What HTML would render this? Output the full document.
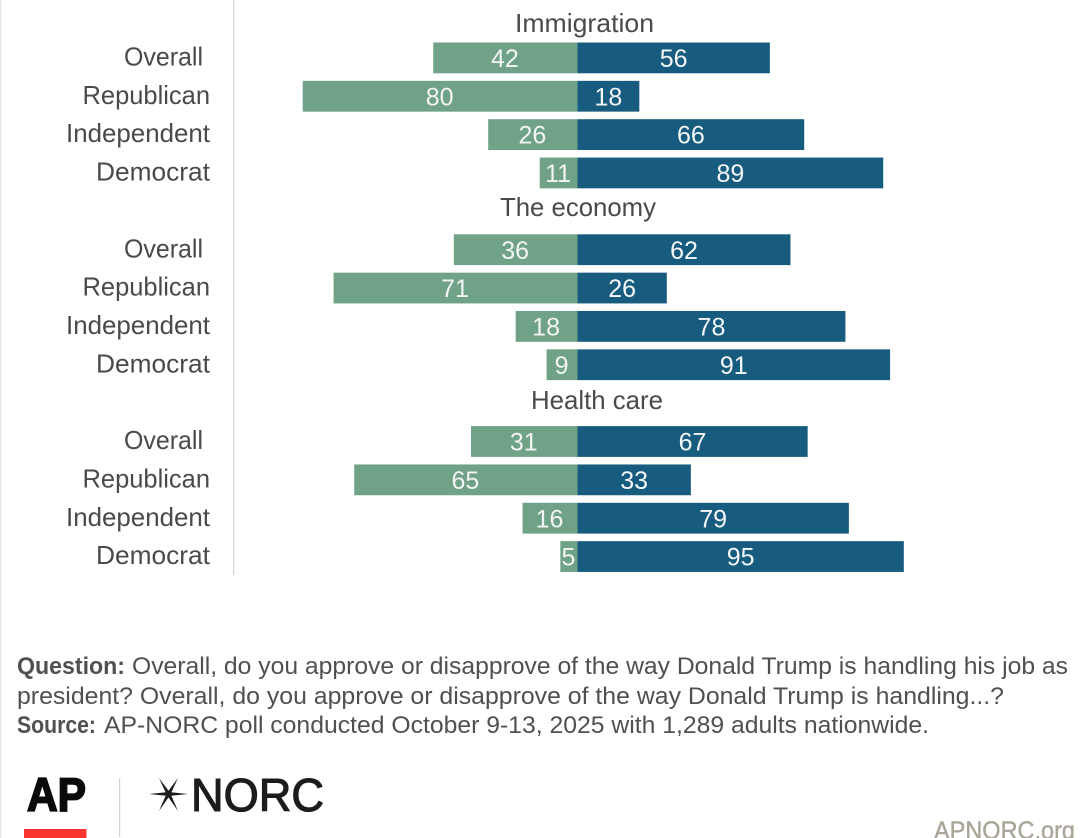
<!DOCTYPE html>
<html lang="en">
<head>
<meta charset="utf-8">
<title>AP-NORC poll: Trump approval by issue</title>
<style>
html,body{margin:0;padding:0;background:#fff;}
svg{display:block;font-family:"Liberation Sans",sans-serif;}
</style>
</head>
<body>
<svg id="chart" width="1091" height="838" viewBox="0 0 1091 838" xmlns="http://www.w3.org/2000/svg">
  <rect width="1091" height="838" fill="#ffffff"/>
  <rect x="0" y="0" width="1.5" height="838" fill="#e6e6e6"/>
  <rect x="233" y="0" width="1.3" height="575" fill="#d8d8d8"/>
  <g id="marks"></g>

  <g font-size="24" fill="#505050">
    <text x="17" y="674" font-weight="700" textLength="108" lengthAdjust="spacingAndGlyphs">Question:</text>
    <text x="132" y="674" textLength="936" lengthAdjust="spacingAndGlyphs">Overall, do you approve or disapprove of the way Donald Trump is handling his job as</text>
    <text x="17" y="704" textLength="987" lengthAdjust="spacingAndGlyphs">president? Overall, do you approve or disapprove of the way Donald Trump is handling...?</text>
    <text x="17" y="733" font-weight="700" textLength="79" lengthAdjust="spacingAndGlyphs">Source:</text>
    <text x="104" y="733" textLength="825" lengthAdjust="spacingAndGlyphs">AP-NORC poll conducted October 9-13, 2025 with 1,289 adults nationwide.</text>
  </g>

  <g>
    <text x="27" y="811" font-size="47" font-weight="700" fill="#0a0a0a" stroke="#0a0a0a" stroke-width="1.800" textLength="59" lengthAdjust="spacingAndGlyphs">AP</text>
    <rect x="24" y="829" width="62.500" height="9" fill="#fa3530"/>
  </g>
  <rect x="119" y="778" width="1.200" height="59" fill="#d5d3cc"/>
  <g>
    <g fill="#1c1c1c">
      <path d="M149 794L168.500 792L188 794L168.500 796Z"/>
      <path d="M159 778L170.200 793L178 811L166.800 795Z"/>
      <path d="M178 778L170.200 795L159 811L166.800 793Z"/>
    </g>
    <text x="191" y="811" font-size="46" fill="#1c1c1c" stroke="#1c1c1c" stroke-width="1.100" textLength="133" lengthAdjust="spacingAndGlyphs">NORC</text>
  </g>
  <text x="934" y="839" font-size="25" fill="#a9a598" stroke="#a9a598" stroke-width="0.400" textLength="141" lengthAdjust="spacingAndGlyphs">APNORC.org</text>
</svg>
<script>
const issues = ["Immigration", "The economy", "Health care"];
const parties = ["Overall", "Republican", "Independent", "Democrat"];
const disapprove = [
  [42, 80, 26, 11],
  [36, 71, 18, 9],
  [31, 65, 16, 5]
];
const approve = [
  [56, 18, 66, 89],
  [62, 26, 78, 91],
  [67, 33, 79, 95]
];

const svgNS = "http://www.w3.org/2000/svg";
const marks = document.getElementById("marks");
const zeroX = 577.5;
const unit = 3.435;
const groupTop = 42.5;
const groupStep = 191.8;
const rowStep = 38.35;
const barH = 30.8;
const titleCenters = [584.5, 578, 597];
const titleBaselines = [32, 216, 409];
const titleLengths = [139, 156, 132];
const labelLengths = [79, 127.5, 144, 114];
const colorGreen = "#70a287";
const colorBlue = "#175c7e";

function xScale(v) { return unit * v; }
function yScale(g, r) { return groupTop + g * groupStep + r * rowStep; }

function make(tag, attrs, text) {
  const el = document.createElementNS(svgNS, tag);
  for (const k in attrs) el.setAttribute(k, attrs[k]);
  if (text !== undefined) el.textContent = text;
  return el;
}

issues.forEach(function (issue, g) {
  const title = make("text", {
    x: titleCenters[g], y: titleBaselines[g], "text-anchor": "middle",
    "font-size": 26, fill: "#4a4a4a",
    textLength: titleLengths[g], lengthAdjust: "spacingAndGlyphs"
  }, issue);
  
  
  marks.appendChild(title);

  parties.forEach(function (party, r) {
    const y = yScale(g, r);
    const labelRight = party === "Overall" ? 203 : 210;
    const label = make("text", {
      x: labelRight, y: y + 23, "text-anchor": "end",
      "font-size": 26, fill: "#4a4a4a",
      textLength: labelLengths[r], lengthAdjust: "spacingAndGlyphs"
    }, party);
    
    
    marks.appendChild(label);

    const dVal = disapprove[g][r];
    const aVal = approve[g][r];
    const dW = xScale(dVal);
    const aW = xScale(aVal);

    const dBar = make("rect", { x: zeroX - dW, y: y, width: dW, height: barH, fill: colorGreen });
    
    
    marks.appendChild(dBar);

    const aBar = make("rect", { x: zeroX, y: y, width: aW, height: barH, fill: colorBlue });
    
    
    marks.appendChild(aBar);

    const dText = make("text", {
      x: zeroX - dW / 2 - 0.5, y: y + 24.5, "text-anchor": "middle",
      "font-size": 25, fill: "#f2f5f3"
    }, String(dVal));
    
    
    marks.appendChild(dText);

    const aText = make("text", {
      x: zeroX + aW / 2, y: y + 24.5, "text-anchor": "middle",
      "font-size": 25, fill: "#f4f7f9"
    }, String(aVal));
    
    
    marks.appendChild(aText);
  });
});
</script>
</body>
</html>
